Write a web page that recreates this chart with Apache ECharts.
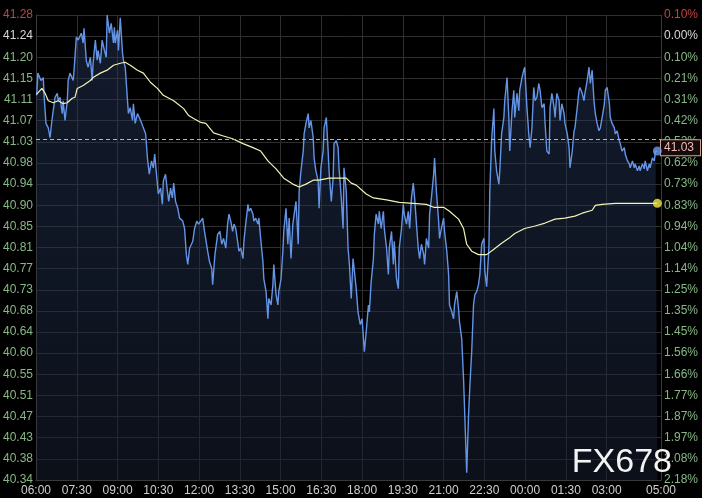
<!DOCTYPE html>
<html><head><meta charset="utf-8">
<script src="https://cdn.jsdelivr.net/npm/echarts@6/dist/echarts.min.js"></script>
<style>html,body{margin:0;padding:0;background:#000;}#c{width:702px;height:498px;}</style>
</head><body><div id="c"></div>
<script>
// x axis: minutes after 06:00
const xTicks = [0,90,180,270,360,450,540,630,720,810,900,990,1080,1170,1260,1380];
const xTickLabels = ['06:00','07:30','09:00','10:30','12:00','13:30','15:00','16:30','18:00','19:30','21:00','22:30','00:00','01:30','03:00','05:00'];

// y axis ticks (price) and their labels
const yTicks = [41.282855,41.24,41.197145,41.15429,41.111435,41.06858,41.025725,40.98287,40.940015,40.89716,40.854305,40.81145,40.768595,40.72574,40.682885,40.64003,40.597175,40.55432,40.511465,40.46861,40.425755,40.3829,40.340045];
const priceLabels = ['41.28','41.24','41.20','41.15','41.11','41.07','41.03','40.98','40.94','40.90','40.85','40.81','40.77','40.73','40.68','40.64','40.60','40.55','40.51','40.47','40.43','40.38','40.34'];
const pctLabels = ['0.10%','0.00%','0.10%','0.21%','0.31%','0.42%','0.52%','0.62%','0.73%','0.83%','0.94%','1.04%','1.14%','1.25%','1.35%','1.45%','1.56%','1.66%','1.77%','1.87%','1.97%','2.08%','2.18%'];
const refPrice = 41.03;
const refLabel = '41.03';

// price line [minute, price]
const pricePoints = [
[1,41.120],[2,41.130],[4,41.165],[11,41.150],[16,41.156],[18,41.116],[22,41.063],[27,41.054],[31,41.034],[35,41.069],[38,41.089],[42,41.116],[47,41.124],[49,41.109],[53,41.116],[58,41.083],[60,41.109],[64,41.069],[69,41.109],[71,41.150],[75,41.165],[82,41.150],[84,41.171],[89,41.238],[93,41.232],[100,41.246],[104,41.226],[106,41.256],[111,41.191],[115,41.177],[120,41.197],[124,41.150],[126,41.185],[131,41.232],[135,41.191],[137,41.211],[142,41.185],[146,41.232],[151,41.211],[155,41.197],[157,41.283],[162,41.246],[166,41.266],[171,41.226],[173,41.258],[175,41.226],[180,41.252],[182,41.211],[186,41.277],[191,41.205],[193,41.191],[197,41.177],[202,41.109],[204,41.083],[208,41.095],[213,41.069],[215,41.103],[219,41.063],[224,41.083],[231,41.069],[237,41.054],[242,41.042],[246,40.993],[250,40.960],[255,40.987],[259,40.973],[262,41.001],[266,40.960],[270,40.920],[275,40.932],[279,40.899],[281,40.946],[286,40.960],[290,40.926],[293,40.905],[297,40.932],[301,40.912],[304,40.942],[308,40.905],[313,40.891],[317,40.871],[324,40.865],[328,40.850],[332,40.797],[335,40.777],[339,40.810],[346,40.824],[350,40.850],[355,40.865],
[359,40.859],[368,40.871],[372,40.844],[379,40.804],[383,40.783],[388,40.769],[390,40.736],[395,40.797],[401,40.838],[406,40.844],[410,40.818],[414,40.830],[419,40.810],[423,40.859],[426,40.879],[430,40.865],[434,40.844],[437,40.859],[441,40.850],[446,40.818],[448,40.804],[452,40.810],[457,40.789],[459,40.824],[463,40.859],[468,40.899],[470,40.885],[474,40.891],[479,40.879],[481,40.865],[485,40.871],[490,40.859],[492,40.871],[496,40.830],[501,40.783],[503,40.748],[508,40.722],[512,40.667],[514,40.708],[519,40.695],[523,40.736],[525,40.777],[530,40.716],[534,40.695],[536,40.722],[541,40.748],[545,40.804],[547,40.844],[552,40.891],[556,40.818],[559,40.871],[563,40.789],[567,40.859],[570,40.879],[574,40.905],[579,40.818],[581,40.926],[585,40.967],[590,41.007],[592,41.042],[596,41.063],[601,41.083],[603,41.054],[607,41.069],[612,41.034],[614,40.993],[618,40.967],[623,40.946],[625,40.891],[629,40.973],[634,41.007],[636,41.054],[641,41.075],[645,41.007],[647,40.967],[652,40.905],[656,40.952],[658,41.022],[663,41.028],[667,41.014],[669,40.973],[674,40.912],[678,40.850],[680,40.973],[685,40.926],[689,40.810],[692,40.777],[696,40.708],[700,40.789],[703,40.763],
[707,40.728],[711,40.681],[716,40.655],[720,40.667],[725,40.600],[729,40.640],[734,40.695],[736,40.681],[740,40.742],[745,40.789],[747,40.838],[751,40.879],[756,40.859],[758,40.885],[762,40.850],[767,40.885],[769,40.850],[774,40.810],[778,40.757],[780,40.810],[785,40.844],[789,40.777],[791,40.824],[796,40.748],[800,40.728],[802,40.810],[807,40.850],[811,40.899],[813,40.879],[818,40.859],[822,40.885],[825,40.850],[829,40.912],[833,40.942],[836,40.912],[840,40.859],[844,40.810],[847,40.789],[851,40.818],[856,40.797],[858,40.777],[862,40.830],[867,40.810],[869,40.879],[873,40.912],[878,40.960],[880,40.993],[884,40.926],[889,40.865],[891,40.830],[895,40.850],[900,40.871],[902,40.844],[907,40.804],[911,40.757],[913,40.695],[918,40.681],[922,40.667],[924,40.695],[929,40.722],[933,40.687],[935,40.661],[940,40.626],[944,40.545],[946,40.491],[951,40.355],[955,40.471],[958,40.532],[962,40.600],[966,40.695],[969,40.716],[973,40.722],[977,40.736],[980,40.757],[984,40.818],[989,40.830],[991,40.763],[995,40.732],[1000,40.810],[1002,40.926],[1006,41.030],[1011,41.093],[1013,41.007],[1017,40.967],[1022,40.940],[1024,40.967],[1028,41.042],[1033,41.075],[1035,41.109],[1040,41.156],[1044,41.075],[1046,41.007],[1051,41.089],[1055,41.130],[1057,41.075],[1062,41.124],[1066,41.089],[1068,41.130],[1073,41.156],[1077,41.171],[1079,41.177],[1084,41.095],[1088,41.042],[1091,41.014],[1095,41.054],[1099,41.136],[1102,41.109],[1106,41.116],[1110,41.144],[1113,41.130],[1117,41.095],[1122,41.103],[1124,41.063],[1128,41.007],[1133,41.001],[1135,41.095],[1139,41.124],[1144,41.095],[1146,41.075],[1150,41.124],[1155,41.109],[1157,41.069],[1161,41.103],[1166,41.083],[1168,41.063],[1173,41.042],[1177,41.014],[1179,40.973],[1184,41.007],[1188,41.048],[1190,41.054],[1195,41.095],[1199,41.130],[1201,41.136],[1206,41.124],[1210,41.109],[1212,41.124],[1217,41.150],[1221,41.177],[1224,41.144],[1228,41.171],[1232,41.109],[1235,41.083],[1239,41.063],[1243,41.048],[1246,41.054],[1250,41.075],[1255,41.103],[1257,41.130],[1261,41.136],[1266,41.103],[1268,41.075],[1272,41.063],[1277,41.054],[1279,41.042],[1283,41.048],[1288,41.028],[1290,41.022],[1294,41.007],[1299,41.014],[1301,41.001],[1306,40.987],[1310,40.981],[1312,40.973],[1317,40.987],[1321,40.973],[1323,40.981],[1328,40.967],[1332,40.977],[1334,40.967],[1339,40.981],[1343,40.971],[1345,40.987],[1350,40.967],[1354,40.981],[1356,40.973],[1361,40.993],[1365,40.987],[1368,41.007],[1372,41.007]
];

// average price line [minute, price]
const avgPoints = [
[1,41.122],[2,41.126],[13,41.134],[20,41.124],[27,41.109],[38,41.105],[49,41.109],[60,41.103],[69,41.105],[80,41.114],[86,41.116],[91,41.134],[104,41.140],[120,41.150],[126,41.156],[142,41.165],[157,41.171],[171,41.181],[186,41.185],[197,41.187],[208,41.181],[224,41.171],[237,41.165],[253,41.146],[268,41.134],[281,41.120],[304,41.109],[326,41.093],[337,41.079],[348,41.073],[364,41.065],[375,41.063],[392,41.044],[412,41.038],[434,41.032],[457,41.022],[479,41.014],[496,41.007],[512,40.987],[530,40.971],[547,40.952],[567,40.940],[581,40.934],[596,40.940],[612,40.948],[625,40.948],[647,40.952],[669,40.952],[685,40.952],[696,40.942],[707,40.938],[729,40.920],[745,40.912],[774,40.908],[802,40.903],[833,40.901],[862,40.899],[878,40.893],[900,40.893],[913,40.885],[933,40.869],[944,40.850],[951,40.818],[962,40.804],[977,40.797],[995,40.797],[1011,40.808],[1028,40.820],[1044,40.830],[1057,40.840],[1079,40.850],[1102,40.855],[1124,40.861],[1146,40.869],[1168,40.871],[1190,40.875],[1206,40.881],[1228,40.887],[1235,40.897],[1250,40.899],[1279,40.901],[1317,40.901],[1372,40.901]
];

const FONT = 'Liberation Sans, Arial, sans-serif';
function tickIndex(v){let b=0,d=1e9;for(let i=0;i<yTicks.length;i++){const e=Math.abs(yTicks[i]-v);if(e<d){d=e;b=i;}}return b;}
function tickColor(v){const i=tickIndex(v);return i===0?'#c8413f':(i===1?'#d8d8d8':'#86b886');}
function xLabel(v){let b=0,d=1e9;for(let i=0;i<xTicks.length;i++){const e=Math.abs(xTicks[i]-v);if(e<d){d=e;b=i;}}return xTickLabels[b];}

const chart = echarts.init(document.getElementById('c'));
const lastP = pricePoints[pricePoints.length-1];
const lastA = avgPoints[avgPoints.length-1];
chart.setOption({
  backgroundColor:'#000',
  animation:false,
  grid:{left:36,right:41,top:15,bottom:18,show:false},
  xAxis:{type:'value',min:0,max:1380,
    axisLine:{show:true,lineStyle:{color:'#3a3a3a'}},
    axisTick:{show:false,customValues:xTicks},
    axisLabel:{customValues:xTicks,formatter:xLabel,color:'#cfcfcf',fontFamily:FONT,fontSize:12,margin:5,showMinLabel:true,showMaxLabel:true},
    splitLine:{show:true,lineStyle:{color:'#2e2e2e',width:1}}},
  yAxis:[
    {type:'value',min:yTicks[yTicks.length-1],max:yTicks[0],position:'left',
     axisLine:{show:true,lineStyle:{color:'#3a3a3a'}},
     axisTick:{show:false,customValues:yTicks},
     axisLabel:{customValues:yTicks,formatter:function(v){return priceLabels[tickIndex(v)];},color:tickColor,fontFamily:FONT,fontSize:12,margin:3},
     splitLine:{show:true,lineStyle:{color:'#2e2e2e',width:1}}},
    {type:'value',min:yTicks[yTicks.length-1],max:yTicks[0],position:'right',
     axisLine:{show:true,lineStyle:{color:'#3a3a3a'}},
     axisTick:{show:false,customValues:yTicks},
     axisLabel:{customValues:yTicks,formatter:function(v){return pctLabels[tickIndex(v)];},color:tickColor,fontFamily:FONT,fontSize:12,margin:3},
     splitLine:{show:false}}
  ],
  series:[
    {type:'line',data:pricePoints,showSymbol:false,symbol:'none',
     lineStyle:{color:'#6494e6',width:1.4},
     areaStyle:{color:new echarts.graphic.LinearGradient(0,0,0,1,[{offset:0,color:'rgba(42,62,104,0.6)'},{offset:1,color:'rgba(22,30,48,0.75)'}])},
     markLine:{silent:true,symbol:'none',animation:false,
       lineStyle:{color:'#e2a98b',type:[4,3],width:1},
       label:{show:true,position:'end',distance:0,formatter:refLabel,color:'#f2b9b3',fontFamily:FONT,fontSize:12,
         backgroundColor:'#140c0c',borderColor:'#d9a48c',borderWidth:1,padding:[2,6,1,3],offset:[0,8]},
       data:[{yAxis:refPrice}]}},
    {type:'line',data:avgPoints,showSymbol:false,symbol:'none',lineStyle:{color:'#f3f3b5',width:1.2}},
    {type:'scatter',data:[lastP],symbolSize:9,itemStyle:{color:'#6a9bee'},z:5},
    {type:'scatter',data:[lastA],symbolSize:9,itemStyle:{color:'#f4e84a'},z:5}
  ],
  graphic:[{type:'text',right:30,bottom:18,z:100,style:{text:'FX678',fill:'#f4f4f4',font:'34px '+FONT,letterSpacing:1}}]
});
</script></body></html>
